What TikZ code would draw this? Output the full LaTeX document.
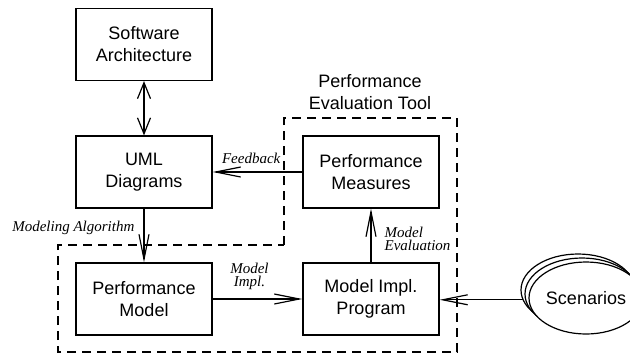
\documentclass[tikz,border=0pt]{standalone}
\usepackage{fontspec}
\setmainfont{Liberation Sans}
\newfontfamily\serifit{Liberation Serif}
\usepackage{tikz}
\usetikzlibrary{shapes.geometric,arrows.meta}

\begin{document}
\begin{tikzpicture}[x=0.5pt,y=-0.5pt,line width=0.6pt,
  box/.style={draw,minimum width=68pt,minimum height=36pt,align=center,font=\fontsize{9}{11}\selectfont},
  scen/.style={draw,fill=white,ellipse,inner sep=0pt,minimum width=57pt,minimum height=36pt},
  lbl/.style={font=\fontsize{7.5}{6.5}\selectfont\serifit\itshape,inner sep=1pt,align=left},
  arr/.style={-{Straight Barb[length=12.5pt,width=5pt]}},
  dbl/.style={{Straight Barb[length=8pt,width=6.5pt]}-{Straight Barb[length=8pt,width=6.5pt]}}]
\useasboundingbox (0,0) rectangle (630,354);

% Tool boundary
\draw[dash pattern=on 4.5pt off 3pt] (284,245) -- (284,118) -- (457,118) -- (457,352) -- (58,352) -- (58,245) -- cycle;
\node[align=center,font=\fontsize{9}{11}\selectfont] (tool) at (370,92) {Performance\\Evaluation Tool};

% Boxes
\node[box] (arch) at (144,44.5) {Software\\Architecture};
\node[box] (uml) at (144,172) {UML\\Diagrams};
\node[box] (pmodel) at (144,299) {Performance\\Model};
\node[box] (measures) at (371,172) {Performance\\Measures};
\node[box] (impl) at (371,299) {Model Impl.\\Program};

% Scenarios
\node[scen] (scen3) at (578,290) {};
\node[scen] (scen2) at (582,294) {};
\node[scen,label={[font=\fontsize{9}{11}\selectfont]center:Scenarios}] (scen) at (586,298) {};

% Arrows
\draw[dbl] (arch) -- (uml);
\draw[arr] (measures.west) -- (uml.east) node[lbl,pos=.57,above=3pt] {Feedback};
\draw[arr] (uml) -- (pmodel) node[lbl,pos=.35,left=3.5pt] {Modeling Algorithm};
\draw[arr] (pmodel) -- (impl) node[lbl,pos=.41,above=3.5pt,align=center] {Model\\Impl.};
\draw[arr] (impl) -- (measures) node[lbl,pos=.44,right=5.5pt] {Model\\Evaluation};
\draw[arr] (scen3.190) -- (scen3.190 -| impl.east);
\end{tikzpicture}
\end{document}
